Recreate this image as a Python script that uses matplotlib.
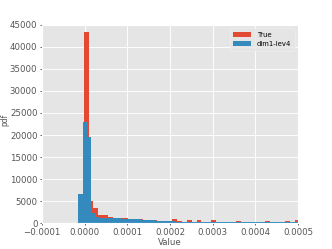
import numpy as np
import matplotlib
matplotlib.use("Agg")
import matplotlib.pyplot as plt

plt.style.use("ggplot")

# Blue histogram (dim1-lev4): bin width 1e-5, first edge -2.5e-5
blue_start = -2.5e-5
blue_width = 1e-5
blue_counts = [80, 6700,
               23000, 19500, 2200, 1450, 1150, 1100, 1100, 1050, 1050, 1000, 1000,
               950, 900, 850, 750, 700, 650, 550, 500, 450, 400,
               380, 360, 350, 330, 320,
               310, 300, 290, 280, 270,
               260, 250, 250, 240, 240,
               230, 230, 220, 220, 210,
               210, 200, 200, 200, 190,
               190, 180, 180, 180, 170]

# Red histogram (True): bin width 1.15e-5, first edge -2.3e-6
red_start = -2.3e-6
red_width = 1.15e-5
red_counts = [43300, 5000, 3400, 1900, 1800, 1300, 1250, 1200, 1100, 1000,
              700, 1000, 700, 600, 800, 500, 400, 500, 900, 400,
              300, 700, 300, 800, 250, 200, 600, 200, 150, 200,
              150, 500, 150, 100, 300, 100, 150, 400, 100, 100,
              150, 400, 100, 700]

labels = ["True", "dim1-lev4"]

red_edges = red_start + red_width * np.arange(len(red_counts) + 1)
blue_edges = blue_start + blue_width * np.arange(len(blue_counts) + 1)

fig = plt.figure(figsize=(4, 3), dpi=83)
ax = fig.add_axes([0.1265, 0.104, 0.771, 0.796])

ax.hist(red_edges[:-1], bins=red_edges, weights=red_counts, color="#E24A33",
        edgecolor="none", linewidth=0, label=labels[0])
ax.hist(blue_edges[:-1], bins=blue_edges, weights=blue_counts, color="#348ABD",
        edgecolor="none", linewidth=0, label=labels[1])

ax.set_xlim(-0.0001, 0.0005)
ax.set_ylim(0, 45000)
ax.set_xticks([-0.0001, 0.0, 0.0001, 0.0002, 0.0003, 0.0004, 0.0005])
ax.set_xticklabels(["\u22120.0001", "0.0000", "0.0001", "0.0002", "0.0003", "0.0004", "0.0005"])
ax.set_yticks(range(0, 45001, 5000))
ax.tick_params(labelsize=7.5, colors="#555555", length=2, pad=2)
ax.set_xlabel("Value", fontsize=7.5, color="#555555", labelpad=1)
ax.set_ylabel("pdf", fontsize=6.5, color="#555555")
ax.yaxis.set_label_coords(-0.126, 0.52)

leg = ax.legend(loc="upper right", fontsize=6, frameon=True, facecolor="#E5E5E5",
                edgecolor="#F2F2F2", handlelength=2.6, borderpad=0.5)

fig.savefig("out.png", dpi=83)
